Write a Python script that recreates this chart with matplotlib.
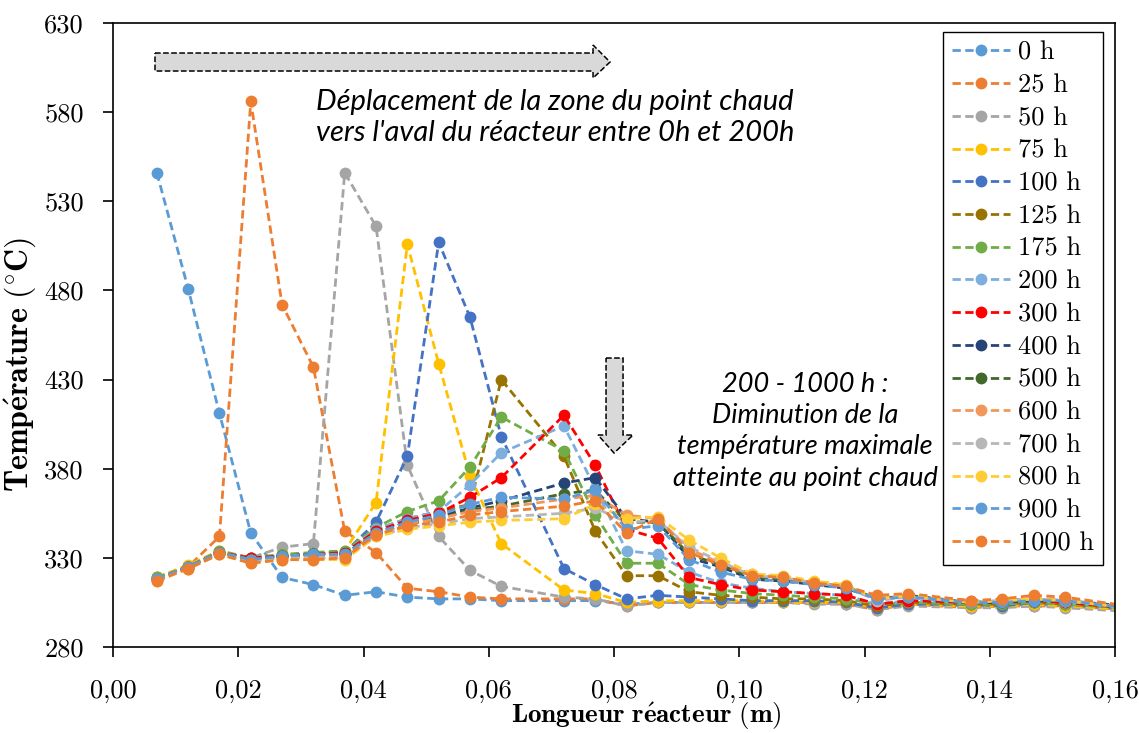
import matplotlib
matplotlib.use("Agg")
import matplotlib.pyplot as plt
from matplotlib.patches import Polygon

plt.rcParams['mathtext.fontset'] = 'cm'
plt.rcParams['axes.formatter.use_mathtext'] = True

# Positions le long du réacteur (m)
longueur = [0.007, 0.012, 0.017, 0.022, 0.027, 0.032, 0.037, 0.042, 0.047, 0.052,
            0.057, 0.062, 0.072, 0.077, 0.082, 0.087, 0.092, 0.097, 0.102, 0.107,
            0.112, 0.117, 0.122, 0.127, 0.137, 0.142, 0.147, 0.152, 0.162]

# Températures (°C) pour chaque durée
t_0h = [546, 481, 411, 344, 319, 315, 309, 311, 308, 307, 307, 306, 306, 306, 304,
        305, 305, 305, 305, 305, 305, 304, 302, 304, 303, 303, 304, 303, 301]
t_25h = [318, 325, 342, 586, 472, 437, 345, 333, 313, 311, 308, 307, 307, 307, 303,
         305, 305, 305, 305, 305, 305, 304, 301, 304, 302, 303, 303, 303, 301]
t_50h = [319, 325, 333, 330, 336, 338, 546, 516, 382, 342, 323, 314, 308, 307, 303,
         305, 305, 305, 305, 305, 304, 304, 301, 303, 302, 302, 303, 302, 300]
t_75h = [319, 326, 334, 329, 332, 332, 334, 361, 506, 439, 376, 338, 312, 310, 305,
         306, 306, 306, 306, 305, 305, 305, 302, 304, 303, 303, 304, 303, 301]
t_100h = [318, 325, 333, 330, 331, 332, 333, 350, 387, 507, 465, 398, 324, 315, 307,
          309, 308, 307, 306, 306, 306, 305, 302, 304, 304, 303, 305, 304, 302]
t_125h = [318, 325, 333, 330, 331, 332, 333, 346, 352, 356, 360, 430, 387, 345, 320,
          320, 311, 309, 308, 307, 307, 306, 303, 305, 304, 304, 305, 304, 302]
t_175h = [319, 325, 334, 330, 332, 333, 334, 347, 356, 362, 381, 409, 390, 354, 327,
          327, 315, 312, 310, 309, 308, 307, 304, 305, 304, 304, 305, 304, 302]
t_200h = [318, 325, 333, 330, 331, 332, 333, 346, 352, 356, 371, 389, 404, 369, 334,
          332, 322, 316, 313, 311, 310, 309, 304, 306, 305, 305, 306, 305, 302]
t_300h = [318, 325, 333, 330, 331, 332, 333, 345, 351, 355, 364, 375, 410, 382, 346,
          341, 319, 315, 312, 311, 310, 309, 304, 306, 305, 305, 306, 305, 302]
t_400h = [318, 325, 333, 329, 331, 332, 332, 344, 350, 353, 358, 362, 372, 375, 352,
          350, 330, 325, 318, 317, 315, 313, 307, 308, 305, 305, 306, 306, 302]
t_500h = [318, 325, 333, 329, 331, 332, 332, 344, 349, 352, 357, 359, 366, 368, 350,
          350, 332, 326, 319, 318, 316, 314, 307, 309, 305, 306, 307, 306, 303]
t_600h = [318, 325, 333, 329, 330, 331, 331, 343, 349, 352, 356, 358, 363, 365, 354,
          352, 335, 327, 321, 319, 316, 314, 308, 309, 306, 306, 307, 307, 303]
t_700h = [318, 324, 332, 328, 330, 330, 330, 342, 347, 349, 352, 353, 355, 358, 350,
          351, 336, 328, 320, 319, 316, 314, 306, 308, 305, 306, 307, 306, 302]
t_800h = [317, 324, 332, 327, 329, 329, 329, 342, 346, 348, 350, 351, 352, 360, 352,
          353, 340, 330, 321, 320, 317, 315, 307, 309, 305, 306, 307, 306, 302]
t_900h = [318, 325, 333, 329, 331, 332, 332, 344, 350, 354, 360, 364, 363, 368, 346,
          348, 329, 322, 318, 317, 315, 313, 307, 308, 305, 305, 306, 306, 302]
t_1000h = [317, 324, 332, 327, 329, 329, 330, 343, 348, 350, 354, 356, 359, 362, 344,
           352, 333, 326, 320, 319, 316, 314, 309, 310, 306, 307, 309, 308, 303]

durees = ['0 h', '25 h', '50 h', '75 h', '100 h', '125 h', '175 h', '200 h',
          '300 h', '400 h', '500 h', '600 h', '700 h', '800 h', '900 h', '1000 h']
series = [t_0h, t_25h, t_50h, t_75h, t_100h, t_125h, t_175h, t_200h,
          t_300h, t_400h, t_500h, t_600h, t_700h, t_800h, t_900h, t_1000h]
couleurs = ['#5B9BD5', '#ED7D31', '#A5A5A5', '#FFC000', '#4472C4', '#997300',
            '#70AD47', '#7CAFDD', '#FF0000', '#264478', '#43682B', '#F1975A',
            '#B7B7B7', '#FFCD33', '#5E9CD8', '#ED7D31']

xticks = [0.00, 0.02, 0.04, 0.06, 0.08, 0.10, 0.12, 0.14, 0.16]
xtick_labels = ['0,00', '0,02', '0,04', '0,06', '0,08', '0,10', '0,12', '0,14', '0,16']
yticks = [280, 330, 380, 430, 480, 530, 580, 630]

fig = plt.figure(figsize=(11.39, 7.33), dpi=100, facecolor='w')
ax = fig.add_axes([0.0992, 0.1173, 0.8798, 0.8513])

for temp, lab, col in zip(series, durees, couleurs):
    ax.plot(longueur, temp, linestyle='--', dashes=(3, 1.6), color=col, lw=2.0,
            marker='o', markersize=7.5, label=lab)

ax.set_xlim(0, 0.16)
ax.set_ylim(280, 630)
ax.set_xticks(xticks)
ax.set_xticklabels(xtick_labels)
ax.set_yticks(yticks)
ax.set_yticklabels([str(v) for v in yticks])
for lbl in ax.get_xticklabels() + ax.get_yticklabels():
    lbl.set_fontfamily('cmr10')
    lbl.set_fontsize(19)
ax.tick_params(axis='x', direction='out', length=7, width=1.2, pad=16)
ax.tick_params(axis='y', direction='out', length=7, width=1.2, pad=14)
for sp in ax.spines.values():
    sp.set_linewidth(1.2)

# Nom des axes
ax.set_xlabel(r'$\mathbf{Longueur\ r\acute{e}acteur\ (m)}$', fontsize=19.5)
ax.xaxis.set_label_coords(0.532, -0.086)
ax.set_ylabel(r'$\mathbf{Temp\acute{e}rature\ (^{\circ}C)}$', fontsize=23)
ax.yaxis.set_label_coords(-0.074, 0.4535)

# Légende
leg = ax.legend(loc='upper right', bbox_to_anchor=(0.988, 0.986), borderaxespad=0,
                fancybox=False, edgecolor='black', framealpha=1, handlelength=2.2,
                labelspacing=0.34, handletextpad=0.3, borderpad=0.35,
                prop={'family': 'cmr10', 'size': 19})
leg.get_frame().set_linewidth(1.0)


def px(x, y):
    # pixels de l'image -> coordonnées des axes
    return ((x - 113) / 1002, (647 - y) / 624)


# Flèches grises
fleche_h = [px(155, 53), px(593, 53), px(593, 45), px(610, 62), px(593, 78),
            px(593, 71), px(155, 71)]
fleche_v = [px(606, 358), px(623, 358), px(623, 435), px(633, 435), px(614, 453),
            px(598, 435), px(606, 435)]
for pts in (fleche_h, fleche_v):
    ax.add_patch(Polygon(pts, closed=True, transform=ax.transAxes, facecolor='#D9D9D9',
                         edgecolor='black', linestyle='--', lw=1.1, zorder=5))

ax.text(0.0706, 577, "Déplacement de la zone du point chaud\nvers l'aval du réacteur entre 0h et 200h",
        ha='center', va='center', fontsize=21, style='italic', family='Lato', linespacing=1.2)
ax.text(0.1105, 401, "200 - 1000 h :\nDiminution de la\ntempérature maximale\natteinte au point chaud",
        ha='center', va='center', fontsize=19.5, style='italic', family='Lato', linespacing=1.32)

plt.savefig('out.png', dpi=100)
